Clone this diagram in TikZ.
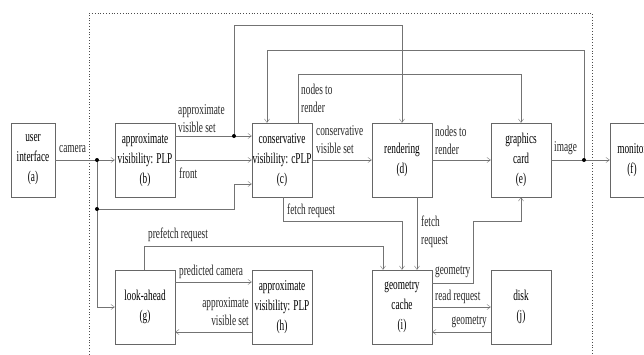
\documentclass[tikz,border=0pt]{standalone}
\usepackage{fontspec}
\setmainfont{Liberation Serif}[FakeStretch=0.62]
\usetikzlibrary{arrows.meta}
\tikzset{
  box/.style={draw=black!60, minimum width=60pt, minimum height=74pt, inner sep=0pt,
    align=center, font=\fontsize{15}{20}\selectfont},
  lbl/.style={inner sep=0pt, align=left, text=black!85, font=\fontsize{15}{18}\selectfont},
  arr/.style={draw=black!55, -{Straight Barb[length=3.5pt,width=5pt]}},
  junc/.style={fill=black, radius=2pt}
}
\begin{document}
\begin{tikzpicture}[x=1pt,y=-1pt]

    \clip (0,0) rectangle (644,354);

    % define coordinates
    \coordinate (J_cam) at (97,160) ;
    \coordinate (J_low) at (97,209) ;
    \coordinate (J_avs) at (234,136) ;
    \coordinate (J_img) at (584,160) ;

    % system frame
    \draw[dotted, black!70, thick] (89,360) -- (89,13) -- (592,13) -- (592,360) ;

    % boxes
    \node[box, minimum width=44pt] (a) at (33,160) {user\\interface\\(a)};
    \node[box] (b) at (145,160) {approximate\\visibility: PLP\\(b)};
    \node[box] (c) at (282,160) {conservative\\visibility: cPLP\\(c)};
    \node[box] (d) at (402,160) {rendering\\(d)};
    \node[box] (e) at (521,160) {graphics\\card\\(e)};
    \node[box, minimum width=44pt] (f) at (632,160) {monitor\\(f)};

    \node[box] (g) at (145,307) {look-ahead\\(g)};
    \node[box] (h) at (282,307) {approximate\\visibility: PLP\\(h)};
    \node[box] (i) at (402,307) {geometry\\cache\\(i)};
    \node[box] (j) at (521,307) {disk\\(j)};

    % upper row
    \draw[arr] (a) -- (b) ;
    \draw[arr] (J_cam) |- (g) ;
    \draw[arr] (J_low) -- (234,209) -- (234,184) -- ([yshift=-24pt]c.west) ;
    \draw[arr] ([yshift=24pt]b.east) -- ([yshift=24pt]c.west) ;
    \draw[arr] (J_avs) -- (234,25) -| (d.north) ;
    \draw[arr] (b) -- (c) ;
    \draw[arr] (c) -- (d) ;
    \draw[arr] (d) -- (e) ;
    \draw[arr] (e) -- (f) ;
    \draw[arr] (J_img) -- (584,50) -| ([xshift=-15pt]c.north) ;
    \draw[arr] ([xshift=16pt]c.north) -- (298,74) -| (e.north) ;

    % down to the cache
    \draw[arr] ([xshift=1pt]c.south) -- (283,221) -| (i.north) ;
    \draw[arr] ([xshift=-1pt]g.north) -- (144,246) -| ([xshift=-19pt]i.north) ;
    \draw[arr] ([xshift=15pt]d.south) -- ([xshift=15pt]i.north) ;

    % lower row
    \draw[arr] ([yshift=25pt]g.east) -- ([yshift=25pt]h.west) ;
    \draw[arr] ([yshift=-25pt]h.west) -- ([yshift=-25pt]g.east) ;
    \draw[arr] ([yshift=24pt]i.east) -- (473,283) -- (473,221) -| (e.south) ;
    \draw[arr] (i) -- (j) ;
    \draw[arr] ([yshift=-25pt]j.west) -- ([yshift=-25pt]i.east) ;

    % junctions
    \fill[junc] (J_cam) circle ;
    \fill[junc] (J_low) circle ;
    \fill[junc] (J_avs) circle ;
    \fill[junc] (J_img) circle ;

    % labels
    \node[lbl, anchor=west] (l_cam) at (59,149) {camera};
    \node[lbl, anchor=west] (l_avs) at (178,119) {approximate\\visible set};
    \node[lbl, anchor=west] (l_front) at (179,173) {front};
    \node[lbl, anchor=west] (l_cvs) at (316,140) {conservative\\visible set};
    \node[lbl, anchor=west] (l_ntr) at (301,98) {nodes to\\render};
    \node[lbl, anchor=west] (l_ntr2) at (435,140) {nodes to\\render};
    \node[lbl, anchor=west] (l_img) at (554,148) {image};
    \node[lbl, anchor=west] (l_fetch) at (287,211) {fetch request};
    \node[lbl, anchor=west] (l_pre) at (148,235) {prefetch request};
    \node[lbl, anchor=west] (l_pcam) at (179,272) {predicted camera};
    \node[lbl, anchor=east, align=right] (l_avs2) at (249,312) {approximate\\visible set};
    \node[lbl, anchor=west] (l_fetch2) at (421,232) {fetch\\request};
    \node[lbl, anchor=west] (l_geo) at (435,272) {geometry};
    \node[lbl, anchor=west] (l_read) at (435,297) {read request};
    \node[lbl, anchor=east] (l_geo2) at (487,322) {geometry};

\end{tikzpicture}
\end{document}
